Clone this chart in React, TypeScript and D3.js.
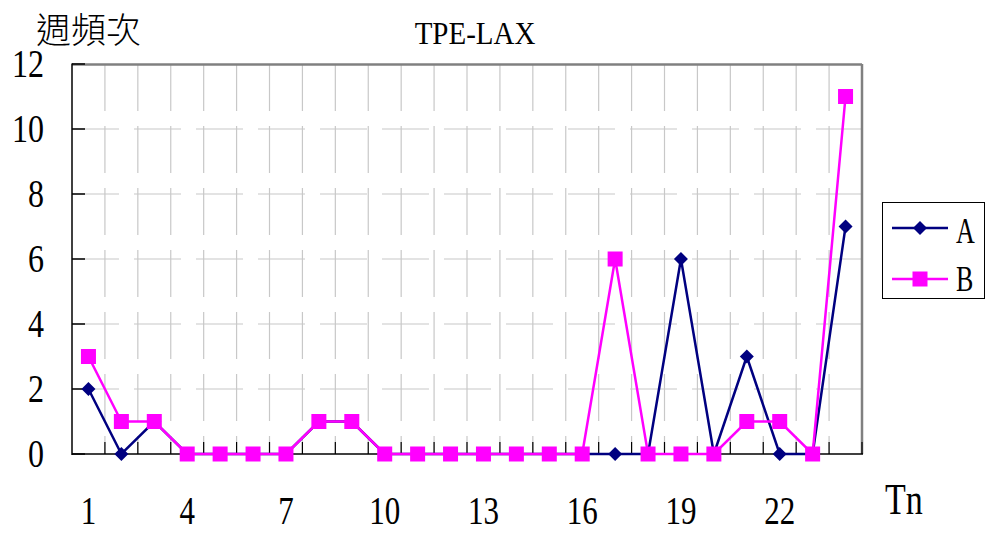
import React from "react";
import * as d3 from "d3";

const categories: string[] = Array.from({ length: 24 }, (_, i) => String(i + 1));
const seriesA: number[] = [2, 0, 1, 0, 0, 0, 0, 1, 1, 0, 0, 0, 0, 0, 0, 0, 0, 0, 6, 0, 3, 0, 0, 7];
const seriesB: number[] = [3, 1, 1, 0, 0, 0, 0, 1, 1, 0, 0, 0, 0, 0, 0, 0, 6, 0, 0, 0, 1, 1, 0, 11];
const yTicks: number[] = [0, 2, 4, 6, 8, 10, 12];
const xLabelCats: string[] = ["1", "4", "7", "10", "13", "16", "19", "22"];
const title = "TPE-LAX";
const yTitle = "週頻次";
const xTitle = "Tn";
const seriesNames = ["A", "B"];

const W = 985, H = 533;
const L = 72, R = 862, T = 64, B = 454;
const SERIF = "'Liberation Serif', 'Times New Roman', serif";

function SText(props: { x: number; y: number; size: number; sy: number; anchor?: string; children: any; family?: string }) {
  const { x, y, size, sy, anchor = "start", children, family = SERIF } = props;
  return (
    <text
      transform={`translate(${x},${y}) scale(1,${sy})`}
      fontFamily={family}
      fontSize={size}
      textAnchor={anchor as any}
      fill="#000"
    >
      {children}
    </text>
  );
}

export default function App() {
  const x = d3.scaleBand<string>().domain(categories).range([L, R]);
  const y = d3.scaleLinear().domain([0, 12]).range([B, T]);
  const cx = (c: string) => (x(c) as number) + x.bandwidth() / 2;
  const line = d3
    .line<number>()
    .x((_, i) => cx(categories[i]))
    .y((d) => y(d));

  const boundaries = d3.range(categories.length + 1).map((i) => L + i * x.bandwidth());
  const diamond = (px: number, py: number, r: number) =>
    `M${px},${py - r}L${px + r},${py}L${px},${py + r}L${px - r},${py}Z`;

  const navy = "#000080";
  const mag = "#FF00FF";

  return (
    <svg width={W} height={H} style={{ position: "absolute", left: 0, top: 0 }}>
      <rect x={0} y={0} width={W} height={H} fill="#fff" />
      {/* grid */}
      {boundaries.slice(1, -1).map((bx, i) => (
        <line key={"vg" + i} x1={bx} x2={bx} y1={T} y2={B} stroke="#c8c8c8" strokeWidth={1.2} strokeDasharray="47,15" />
      ))}
      {yTicks.slice(1, -1).map((t) => (
        <line key={"hg" + t} x1={L} x2={R} y1={y(t)} y2={y(t)} stroke="#c8c8c8" strokeWidth={1.2} strokeDasharray="47,15" />
      ))}
      {/* frame */}
      <line x1={L} x2={R} y1={T + 0.5} y2={T + 0.5} stroke="#808080" strokeWidth={2.5} />
      <line x1={R} x2={R} y1={T} y2={B} stroke="#808080" strokeWidth={2.5} />
      <line x1={L} x2={L} y1={T - 0.5} y2={B + 1} stroke="#000" strokeWidth={1.5} />
      <line x1={L} x2={R + 1} y1={B} y2={B} stroke="#000" strokeWidth={1.5} />
      {yTicks.map((t) => (
        <line key={"yt" + t} x1={L} x2={L + 13} y1={y(t)} y2={y(t)} stroke="#000" strokeWidth={1.5} />
      ))}
      {boundaries.slice(1).map((bx, i) => (
        <line key={"xt" + i} x1={bx} x2={bx} y1={B} y2={B - 12} stroke="#000" strokeWidth={1.2} />
      ))}
      {/* y labels */}
      {yTicks.map((t) => (
        <SText key={"yl" + t} x={44} y={y(t) + 13} size={32} sy={1.25} anchor="end">
          {t}
        </SText>
      ))}
      {/* x labels */}
      {xLabelCats.map((c) => (
        <SText key={"xl" + c} x={cx(c)} y={524} size={31} sy={1.28} anchor="middle">
          {c}
        </SText>
      ))}
      <SText x={885} y={514} size={34} sy={1.3}>
        {xTitle}
      </SText>
      <SText x={475} y={44} size={29} sy={1.12} anchor="middle">
        {title}
      </SText>
      <text x={36} y={43} fontFamily="'Noto Sans CJK TC', 'Noto Sans CJK SC', sans-serif" fontSize={35} fontWeight={300} fill="#000">
        {yTitle}
      </text>
      {/* series */}
      <path d={line(seriesA) || ""} fill="none" stroke={navy} strokeWidth={2.5} />
      {seriesA.map((v, i) => (
        <path key={"ma" + i} d={diamond(cx(categories[i]), y(v), 7)} fill={navy} />
      ))}
      <path d={line(seriesB) || ""} fill="none" stroke={mag} strokeWidth={2.5} />
      {seriesB.map((v, i) => (
        <rect key={"mb" + i} x={cx(categories[i]) - 7.5} y={y(v) - 7.5} width={15} height={15} fill={mag} />
      ))}
      {/* legend */}
      <rect x={882.5} y={202.5} width={102} height={96} fill="#fff" stroke="#000" strokeWidth={1} />
      <line x1={892} x2={948} y1={228} y2={228} stroke={navy} strokeWidth={2.5} />
      <path d={diamond(920, 228, 7)} fill={navy} />
      <SText x={956} y={243} size={26} sy={1.35}>
        {seriesNames[0]}
      </SText>
      <line x1={892} x2={948} y1={279} y2={279} stroke={mag} strokeWidth={2.5} />
      <rect x={912.5} y={271.5} width={15} height={15} fill={mag} />
      <SText x={956} y={291} size={26} sy={1.35}>
        {seriesNames[1]}
      </SText>
    </svg>
  );
}
